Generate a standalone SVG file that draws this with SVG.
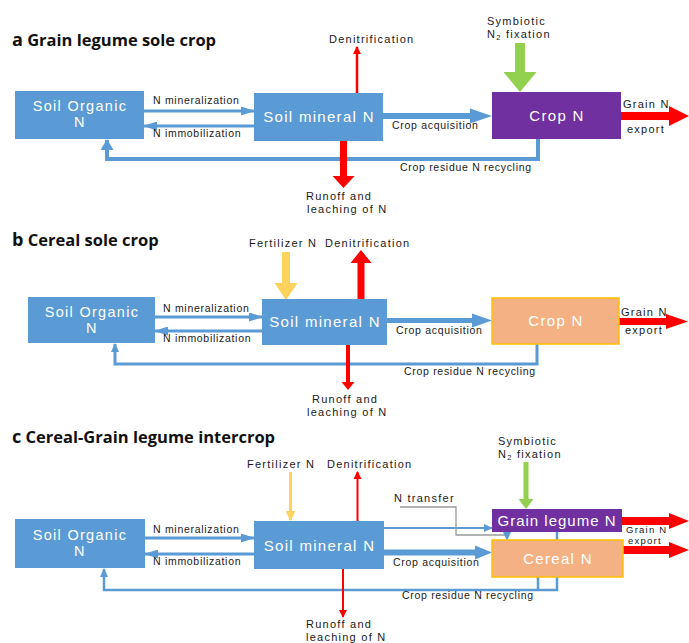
<svg xmlns="http://www.w3.org/2000/svg" width="689" height="643" viewBox="0 0 689 643">
<style>
.t{font-family:"Liberation Sans",Arial,sans-serif;font-size:10.5px;fill:#1a1a1a;letter-spacing:0.7px}
.w{font-size:11px;letter-spacing:1.25px}
.ti{font-family:"Open Sans","Noto Sans",sans-serif;font-size:16.5px;font-weight:bold;fill:#111}
.bx{font-family:"Liberation Sans",Arial,sans-serif;font-size:15px;fill:#fff;text-anchor:middle;letter-spacing:1.3px}
.so{font-size:14.5px}
.blue{fill:#5b9bd5}
.pur{fill:#7030a0}
.org{fill:#f4b183;stroke:#ffc000;stroke-width:1.5}
.ln{fill:none;stroke:#5b9bd5}
.red{fill:#ff0000}
.rl{fill:none;stroke:#ff0000}
.grn{fill:#92d050}
.yel{fill:#fdd35e}
</style>
<defs>
<marker id="ab" markerUnits="userSpaceOnUse" markerWidth="14" markerHeight="9" refX="13" refY="4.5" orient="auto"><path d="M0,0 L14,4.5 L0,9 z" fill="#5b9bd5"/></marker>
<marker id="abs" markerUnits="userSpaceOnUse" markerWidth="9" markerHeight="8" refX="8" refY="4" orient="auto"><path d="M0,0 L9,4 L0,8 z" fill="#5b9bd5"/></marker>
<marker id="abt" markerUnits="userSpaceOnUse" markerWidth="11" markerHeight="13" refX="10" refY="6.5" orient="auto"><path d="M0,0 L11,6.5 L0,13 z" fill="#5b9bd5"/></marker>
<marker id="ar" markerUnits="userSpaceOnUse" markerWidth="8" markerHeight="8" refX="7" refY="4" orient="auto"><path d="M0,0 L8,4 L0,8 z" fill="#ff0000"/></marker>
<marker id="ay" markerUnits="userSpaceOnUse" markerWidth="10" markerHeight="10" refX="9" refY="5" orient="auto"><path d="M0,0 L10,5 L0,10 z" fill="#fdd35e"/></marker>
</defs>
<rect width="689" height="643" fill="#fff"/>

<!-- titles -->
<text class="ti" x="12" y="46"><tspan font-size="18">a</tspan> Grain legume sole crop</text>
<text class="ti" x="12" y="246"><tspan font-size="18">b</tspan> Cereal sole crop</text>
<text class="ti" x="12" y="443"><tspan font-size="18">c</tspan> Cereal-Grain legume intercrop</text>

<g id="connectors">
<!-- panel a -->
<path class="ln" stroke-width="3" d="M144,111 H254" marker-end="url(#ab)"/>
<path class="ln" stroke-width="3" d="M254,126 H144" marker-end="url(#ab)"/>
<path class="ln" stroke-width="4" d="M538,139 V159 H107 V140" marker-end="url(#abt)"/>
<polygon class="blue" points="383,113 470,113 470,108.5 492,116 470,123.5 470,119 383,119"/>
<polygon class="red" points="621,112 669,112 669,106 689,116 669,126 669,120 621,120"/>
<polygon class="grn" points="515,43 525,43 525,72 536.5,72 520,92 503.5,72 515,72"/>
<polygon class="red" points="340,141 347,141 347,176 354.5,176 343.5,188 332.5,176 340,176"/>
<path class="rl" stroke-width="2.5" d="M357,93 V47" marker-end="url(#ar)"/>

<!-- panel b -->
<path class="ln" stroke-width="3" d="M155,317 H262" marker-end="url(#ab)"/>
<path class="ln" stroke-width="3" d="M262,331 H155" marker-end="url(#ab)"/>
<path class="ln" stroke-width="3" d="M537,344 V364 H115 V344" marker-end="url(#abs)"/>
<polygon class="blue" points="387,318 472,318 472,313.5 492,320.5 472,327.5 472,323 387,323"/>
<polygon class="red" points="619,318 666,318 666,314 688,321.5 666,329 666,325 619,325"/>
<polygon class="yel" points="282,252 290,252 290,283 297.5,283 286,300 274.5,283 282,283"/>
<polygon class="red" points="357.5,299 364.5,299 364.5,263 371.5,263 361,250 350.5,263 357.5,263"/>
<polygon class="red" points="346,345 350,345 350,382 354.5,382 348,390 341.5,382 346,382"/>

<!-- panel c -->
<path class="ln" stroke-width="3" d="M145,538 H254" marker-end="url(#ab)"/>
<path class="ln" stroke-width="3" d="M254,554 H145" marker-end="url(#ab)"/>
<path class="ln" stroke-width="2.5" d="M557,532 V540"/>
<path class="ln" stroke-width="2.5" d="M538,577 V590"/>
<path class="ln" stroke-width="2.5" d="M557,577 V590 H104 V569" marker-end="url(#abs)"/>
<path class="ln" stroke-width="2" d="M384,528 H492" marker-end="url(#abs)"/>
<path fill="none" stroke="#9a9a9a" stroke-width="1.3" d="M400,507 H456 V535 H507"/>
<path class="ln" stroke-width="2" d="M507,531 V540" marker-end="url(#abs)"/>
<polygon class="blue" points="384,549.5 475,549.5 475,545.5 492,552.5 475,559.5 475,555.5 384,555.5"/>
<polygon class="red" points="622,517 669,517 669,513 689,521 669,529 669,525 622,525"/>
<polygon class="red" points="623,546 669,546 669,542 689,550 669,558 669,554 623,554"/>
<polygon class="grn" points="523.5,462 528.5,462 528.5,499 533.5,499 526,509 518.5,499 523.5,499"/>
<path fill="none" stroke="#fdd35e" stroke-width="3" d="M290.5,472 V520" marker-end="url(#ay)"/>
<path class="rl" stroke-width="2" d="M357.5,521 V472" marker-end="url(#ar)"/>
<path class="rl" stroke-width="2" d="M343,569 V617" marker-end="url(#ar)"/>
</g>

<!-- panel a nodes -->
<g id="a-soil-organic"><rect class="blue" x="15" y="91" width="129" height="48"/><text class="bx so" x="80" y="111">Soil Organic<tspan x="80" dy="16.4">N</tspan></text></g>
<g id="a-soil-mineral"><rect class="blue" x="254" y="93" width="129" height="48"/><text class="bx" x="319" y="122">Soil mineral N</text></g>
<g id="a-crop"><rect class="pur" x="492" y="92" width="129" height="47"/><text class="bx" x="557" y="121">Crop N</text></g>

<!-- panel b nodes -->
<g id="b-soil-organic"><rect class="blue" x="28" y="297" width="127" height="46"/><text class="bx so" x="92" y="317">Soil Organic<tspan x="92" dy="16.4">N</tspan></text></g>
<g id="b-soil-mineral"><rect class="blue" x="262" y="299" width="125" height="46"/><text class="bx" x="325" y="327">Soil mineral N</text></g>
<g id="b-crop"><rect class="org" x="492" y="298" width="127" height="46"/><text class="bx" x="556" y="326">Crop N</text></g>

<!-- panel c nodes -->
<g id="c-soil-organic"><rect class="blue" x="15" y="519" width="130" height="49"/><text class="bx so" x="80" y="540">Soil Organic<tspan x="80" dy="16.4">N</tspan></text></g>
<g id="c-soil-mineral"><rect class="blue" x="254" y="521" width="130" height="48"/><text class="bx" x="319.5" y="551">Soil mineral N</text></g>
<g id="c-grain-legume"><rect class="pur" x="492" y="509" width="130" height="23"/><text class="bx" x="557" y="526" font-size="14" style="letter-spacing:1px">Grain legume N</text></g>
<g id="c-cereal"><rect class="org" x="492" y="540" width="131" height="37"/><text class="bx" x="558" y="564">Cereal N</text></g>

<g id="labels">
<!-- panel a -->
<text class="t" x="153" y="104">N mineralization</text>
<text class="t" x="153" y="137">N immobilization</text>
<text class="t w" x="329" y="43">Denitrification</text>
<text class="t" x="392" y="129">Crop acquisition</text>
<text class="t" x="400" y="171">Crop residue N recycling</text>
<text class="t w" x="306" y="200">Runoff  and<tspan x="307" dy="12.5">leaching of N</tspan></text>
<text class="t w" x="487" y="25">Symbiotic<tspan x="487" dy="12.5">N</tspan><tspan font-size="7.5" dy="2">2</tspan><tspan dy="-2"> fixation</tspan></text>
<text class="t w" x="623" y="108">Grain N</text>
<text class="t w" x="627" y="133">export</text>

<!-- panel b -->
<text class="t" x="163" y="312">N mineralization</text>
<text class="t" x="163" y="342">N immobilization</text>
<text class="t w" x="249" y="247">Fertilizer N</text>
<text class="t w" x="325" y="247">Denitrification</text>
<text class="t" x="396" y="334">Crop acquisition</text>
<text class="t" x="404" y="375">Crop residue N recycling</text>
<text class="t w" x="312" y="403">Runoff  and<tspan x="307" dy="12.5">leaching of N</tspan></text>
<text class="t w" x="621" y="316">Grain N</text>
<text class="t w" x="625" y="334">export</text>

<!-- panel c -->
<text class="t" x="153" y="533">N mineralization</text>
<text class="t" x="153" y="565">N immobilization</text>
<text class="t w" x="247" y="468">Fertilizer N</text>
<text class="t w" x="327" y="468">Denitrification</text>
<text class="t w" x="394" y="502">N transfer</text>
<text class="t" x="393" y="566">Crop acquisition</text>
<text class="t" x="402" y="599">Crop residue N  recycling</text>
<text class="t w" x="306" y="628">Runoff  and<tspan x="306" dy="12.5">leaching of N</tspan></text>
<text class="t w" x="498" y="445">Symbiotic<tspan x="498" dy="12.5">N</tspan><tspan font-size="7.5" dy="2">2</tspan><tspan dy="-2"> fixation</tspan></text>
<text class="t w" x="626" y="533" style="font-size:9.5px">Grain N<tspan x="628" dy="11">export</tspan></text>
</g>
</svg>
